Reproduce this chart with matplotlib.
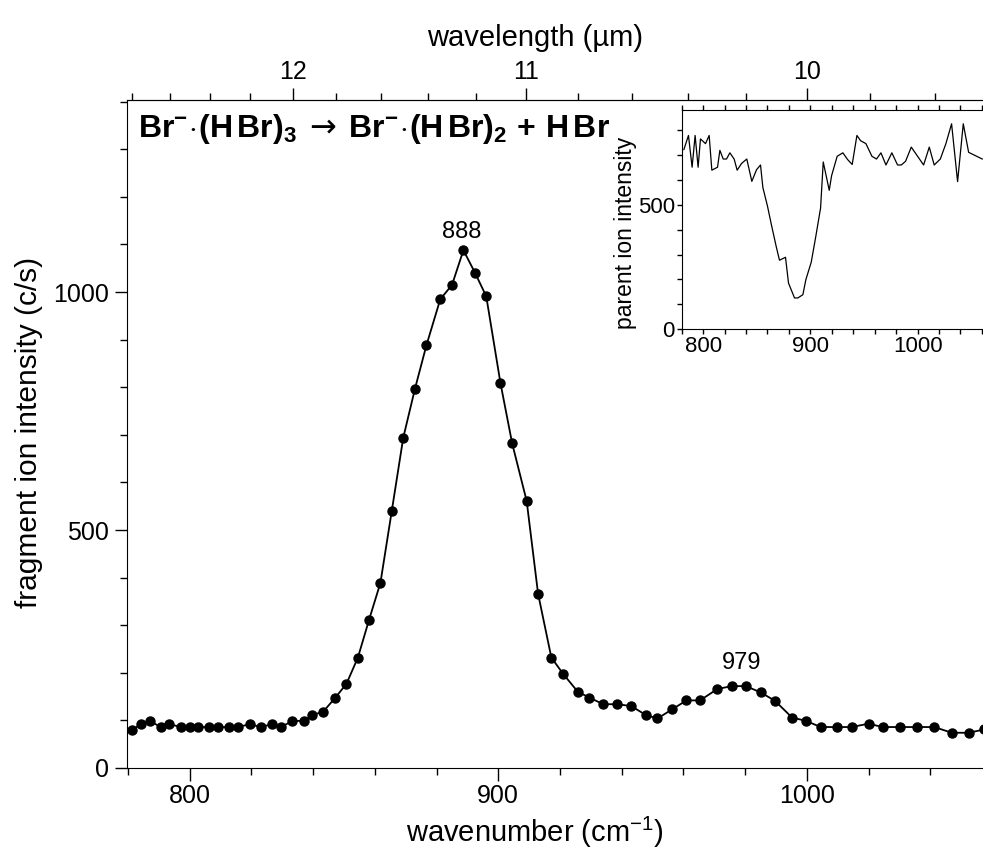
import matplotlib
matplotlib.use("Agg")
import matplotlib.pyplot as plt
from matplotlib import font_manager
from matplotlib.ticker import MultipleLocator, FixedLocator

# pick a narrow sans face if it is there
names = {f.name for f in font_manager.fontManager.ttflist}
FONT = "Liberation Sans Narrow" if "Liberation Sans Narrow" in names else "Liberation Sans"

plt.rcParams["font.family"] = [FONT, "DejaVu Sans"]
plt.rcParams["mathtext.fontset"] = "custom"
plt.rcParams["mathtext.rm"] = FONT
plt.rcParams["mathtext.it"] = FONT
plt.rcParams["mathtext.bf"] = FONT + ":bold"
plt.rcParams["mathtext.sf"] = "DejaVu Sans"

# fragment ion spectrum (main panel)
wavenumber = [781.3, 784.2, 787.0, 790.6, 793.4, 797.2, 800.0, 802.7, 806.4, 809.3,
              812.8, 815.7, 819.4, 823.1, 826.7, 829.6, 833.3, 837.0, 839.6, 843.2,
              847.1, 850.8, 854.5, 858.1, 861.8, 865.5, 869.2, 873.0, 876.7, 881.2,
              885.0, 888.7, 892.5, 896.1, 900.7, 904.5, 909.2, 912.9, 917.2, 921.1,
              925.8, 929.5, 934.0, 938.6, 943.1, 947.9, 951.6, 956.3, 961.0, 965.4,
              971.0, 975.7, 980.2, 985.0, 989.7, 995.2, 999.7, 1004.5, 1009.8, 1014.5,
              1020.0, 1024.6, 1030.3, 1035.8, 1041.3, 1047.0, 1052.5, 1057.5]
fragment = [80, 92, 99, 86, 92, 86, 86, 86, 86, 86,
            86, 86, 92, 86, 92, 86, 99, 99, 111, 118,
            147, 177, 232, 311, 389, 541, 694, 797, 888, 985,
            1015, 1088, 1040, 991, 809, 682, 561, 366, 232, 197,
            160, 148, 134, 134, 130, 111, 104, 123, 142, 142,
            166, 172, 172, 159, 141, 106, 99, 86, 86, 86,
            93, 86, 86, 86, 86, 74, 74, 81]

# parent ion signal (inset)
inset_wn = [782.0, 786.3, 789.7, 792.5, 795.3, 797.5, 802.2, 805.6, 808.1, 813.4,
            815.6, 818.7, 821.8, 824.9, 828.9, 831.7, 835.8, 840.7, 845.4, 849.8,
            853.5, 855.7, 860.0, 863.8, 868.1, 871.2, 876.8, 879.6, 885.2, 888.3,
            893.0, 895.8, 900.8, 905.1, 909.5, 912.0, 917.6, 919.8, 925.0, 930.3,
            934.7, 939.0, 943.4, 946.8, 951.8, 957.4, 961.7, 965.8, 970.5, 976.0,
            981.3, 984.8, 988.8, 994.1, 1000.0, 1005.6, 1010.9, 1015.5, 1021.2, 1026.4,
            1031.7, 1037.3, 1042.6, 1047.6, 1060.3]
parent = [723, 780, 652, 780, 652, 766, 747, 780, 640, 652,
          720, 685, 685, 710, 685, 640, 667, 685, 595, 642,
          661, 570, 495, 417, 333, 277, 289, 185, 125, 125,
          138, 199, 269, 374, 487, 673, 559, 618, 696, 710,
          683, 663, 780, 759, 747, 696, 685, 710, 661, 710,
          661, 661, 676, 733, 696, 661, 733, 661, 685, 747,
          827, 594, 827, 712, 685]

peak_pos = [888, 979]
peak_lbl = ["888", "979"]
peak_y = [1126, 220]

fig = plt.figure(figsize=(9.83, 8.5), dpi=100)
ax = fig.add_axes([0.129, 0.0965, 0.871, 0.7855])

ax.plot(wavenumber, fragment, color="black", lw=1.3, marker="o", ms=6.5)
ax.set_xlim(779.6, 1057.1)
ax.set_ylim(0, 1403)

ax.xaxis.set_major_locator(FixedLocator([800, 900, 1000]))
ax.xaxis.set_minor_locator(MultipleLocator(20))
ax.yaxis.set_major_locator(FixedLocator([0, 500, 1000]))
ax.yaxis.set_minor_locator(MultipleLocator(100))
ax.tick_params(which="major", direction="out", length=9, width=1, labelsize=18)
ax.tick_params(which="minor", direction="out", length=5, width=1)
ax.tick_params(axis="x", pad=2.5)
ax.tick_params(axis="y", pad=4)
ax.spines["right"].set_visible(False)

ax.set_xlabel("wavenumber (cm$^{-1}$)", fontsize=21)
ax.xaxis.set_label_coords(0.477, -0.070)
ax.set_ylabel("fragment ion intensity (c/s)", fontsize=21.5)
ax.yaxis.set_label_coords(-0.098, 0.503)

# wavelength scale on top
top = ax.secondary_xaxis("top", functions=(lambda x: 1e4 / x, lambda x: 1e4 / x))
top.xaxis.set_major_locator(FixedLocator([10, 11, 12]))
top.xaxis.set_minor_locator(MultipleLocator(0.2))
top.tick_params(which="major", direction="out", length=9, width=1, labelsize=18, pad=2.5)
top.tick_params(which="minor", direction="out", length=5, width=1)
top.set_xlabel("wavelength (\u00b5m)", fontsize=21)
top.xaxis.set_label_coords(0.477, 1.081, transform=ax.transAxes)

for x, y, s in zip(peak_pos, peak_y, peak_lbl):
    ax.text(x, y, s, ha="center", va="center", fontsize=17)

ax.text(0.013, 0.982,
        r"$\mathbf{Br^{-}\!\cdot\!(H\,Br)_3}\;\mathsf{\rightarrow}\;\mathbf{Br^{-}\!\cdot\!(H\,Br)_2 \,+\, H\,Br}$",
        transform=ax.transAxes, ha="left", va="top", fontsize=23)

# inset
ins = fig.add_axes([0.6935, 0.613, 0.3065, 0.2577])
ins.plot(inset_wn, parent, color="black", lw=0.9)
ins.set_xlim(780, 1061)
ins.set_ylim(0, 883)
ins.xaxis.set_major_locator(FixedLocator([800, 900, 1000]))
ins.xaxis.set_minor_locator(MultipleLocator(20))
ins.yaxis.set_major_locator(FixedLocator([0, 500]))
ins.yaxis.set_minor_locator(MultipleLocator(100))
ins.tick_params(which="both", direction="out", length=3.5, width=1, top=True, bottom=True)
ins.tick_params(which="major", labelsize=16, pad=1.5)
ins.spines["right"].set_visible(False)
ins.set_ylabel("parent ion intensity", fontsize=16.5)
ins.yaxis.set_label_coords(-0.150, 0.438)

fig.savefig("out.png", dpi=100)
